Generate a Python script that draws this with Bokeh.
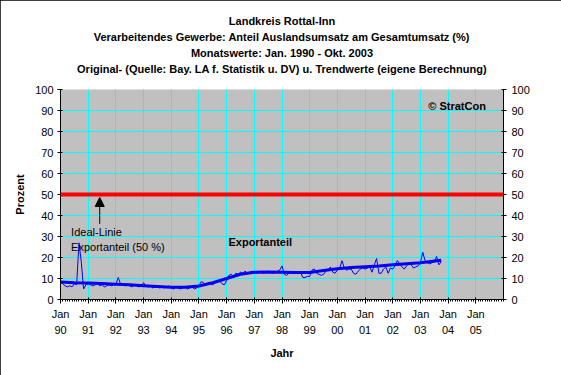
from bokeh.plotting import figure
from bokeh.models import (Range1d, LinearAxis, FixedTicker, Span, Label, Arrow,
                          NormalHead, Title)
from bokeh.embed import file_html
from bokeh.resources import INLINE

FONT = "Liberation Sans"

title_lines = [
    "Landkreis Rottal-Inn",
    "Verarbeitendes Gewerbe: Anteil Auslandsumsatz am Gesamtumsatz (%)",
    "Monatswerte: Jan. 1990 - Okt. 2003",
    "Original- (Quelle: Bay. LA f. Statistik u. DV) u. Trendwerte (eigene Berechnung)",
]

year_labels = ["90", "91", "92", "93", "94", "95", "96", "97",
               "98", "99", "00", "01", "02", "03", "04", "05"]

# Monthly original values (Jan 1990 - Oct 2003), percent
orig_1990 = [8.0, 7.5, 6.5, 6.0, 6.5, 6.0, 7.5, 7.0, 27.0, 18.0, 5.0, 7.0]
orig_1991 = [7.5, 7.0, 6.5, 7.0, 7.5, 6.5, 7.0, 6.0, 6.5, 7.0, 6.5, 7.0]
orig_1992 = [7.0, 10.5, 7.5, 7.0, 6.5, 7.0, 6.5, 6.0, 7.0, 6.5, 6.0, 6.5]
orig_1993 = [8.0, 6.5, 6.0, 6.5, 5.5, 6.0, 6.5, 5.5, 6.0, 5.5, 6.0, 6.5]
orig_1994 = [5.5, 5.0, 6.0, 5.5, 5.0, 5.5, 6.0, 5.0, 5.5, 6.0, 5.0, 5.5]
orig_1995 = [6.5, 8.5, 8.0, 7.0, 8.0, 7.5, 7.0, 8.0, 8.5, 9.0, 7.5, 7.0]
orig_1996 = [9.0, 11.5, 12.0, 11.0, 12.5, 12.0, 13.0, 12.5, 13.5, 12.5, 13.0, 13.5]
orig_1997 = [13.0, 12.5, 13.0, 13.5, 12.5, 13.0, 13.5, 13.0, 12.5, 13.0, 13.5, 14.0]
orig_1998 = [16.0, 12.0, 11.5, 12.5, 13.0, 12.5, 13.0, 12.5, 13.0, 10.5, 10.5, 11.0]
orig_1999 = [11.0, 14.0, 14.5, 12.5, 12.0, 11.5, 12.0, 13.5, 14.0, 15.5, 13.0, 12.5]
orig_2000 = [14.0, 15.0, 18.5, 15.0, 14.0, 14.5, 14.5, 12.5, 12.0, 13.5, 14.5, 15.0]
orig_2001 = [14.5, 15.0, 15.5, 13.0, 16.5, 19.5, 12.5, 12.5, 14.5, 15.5, 12.5, 15.0]
orig_2002 = [14.5, 16.0, 18.5, 17.0, 15.5, 14.5, 16.0, 17.5, 16.5, 15.0, 15.5, 16.0]
orig_2003 = [17.5, 22.5, 18.5, 17.5, 17.0, 17.5, 18.0, 20.5, 16.5, 18.0]

# Trend values (read at half-year points)
trend_dates = ["1990-01", "1990-07", "1991-01", "1991-07", "1992-01", "1992-07",
               "1993-01", "1993-07", "1994-01", "1994-07", "1995-01", "1995-07",
               "1996-01", "1996-07", "1997-01", "1997-07", "1998-01", "1998-07",
               "1999-01", "1999-07", "2000-01", "2000-07", "2001-01", "2001-07",
               "2002-01", "2002-07", "2003-01", "2003-10"]
trend_values = [8.3, 8.0, 7.8, 7.6, 7.3, 7.0,
                6.6, 6.2, 5.8, 5.8, 6.4, 8.0,
                10.0, 12.0, 13.0, 13.1, 13.0, 12.8,
                12.9, 13.8, 14.6, 15.2, 15.6, 16.0,
                16.5, 17.0, 17.5, 18.7]

ideal_value = 50
start_year = 1990
end_year_axis = 2006

original = (orig_1990 + orig_1991 + orig_1992 + orig_1993 + orig_1994 + orig_1995 +
            orig_1996 + orig_1997 + orig_1998 + orig_1999 + orig_2000 + orig_2001 +
            orig_2002 + orig_2003)
orig_x = list(range(len(original)))


def month_index(s):
    y, m = s.split("-")
    return (int(y) - start_year) * 12 + int(m) - 1


trend_x = [month_index(d) for d in trend_dates]
x_max = (end_year_axis - start_year) * 12
major = [12 * i for i in range(len(year_labels))]

p = figure(width=561, height=375, x_range=Range1d(0, x_max), y_range=Range1d(0, 100),
           output_backend="svg", toolbar_location=None,
           min_border_left=60, min_border_right=58, min_border_top=89, min_border_bottom=76,
           background_fill_color="#C0C0C0", border_fill_color="white",
           outline_line_color=None, x_axis_label="Jahr", y_axis_label="Prozent")
p.styles = {"outline": "1px solid black", "outline-offset": "-1px"}

# grids
p.xgrid.ticker = FixedTicker(ticks=[12 * i for i in range(x_max // 12 + 1)])
p.ygrid.ticker = FixedTicker(ticks=list(range(0, 101, 10)))
for g in (p.xgrid, p.ygrid):
    g.grid_line_color = "#00FFFF"
    g.grid_line_width = 1

# x axis
xa = p.xaxis[0]
xa.ticker = FixedTicker(ticks=major, minor_ticks=list(range(0, x_max + 1)))
xa.major_label_overrides = {t: "Jan\n" + yl for t, yl in zip(major, year_labels)}
xa.major_label_text_line_height = 1.35
xa.major_label_standoff = 4
xa.major_tick_in = 2
xa.major_tick_out = 4
xa.minor_tick_in = 0
xa.minor_tick_out = 2
xa.minor_tick_line_color = "black"
xa.axis_label_standoff = 8

# left y axis
ya = p.yaxis[0]
ya.ticker = FixedTicker(ticks=list(range(0, 101, 10)))
ya.major_label_standoff = 4
ya.major_tick_in = 2
ya.major_tick_out = 3
ya.minor_tick_line_color = None
ya.axis_label_standoff = 6

# right y axis
ra = LinearAxis(ticker=FixedTicker(ticks=list(range(0, 101, 10))))
ra.major_label_standoff = 5
ra.major_tick_in = 2
ra.major_tick_out = 3
ra.minor_tick_line_color = None
p.add_layout(ra, "right")

for ax in (xa, ya, ra):
    ax.axis_line_color = "black"
    ax.major_tick_line_color = "black"
    ax.major_label_text_color = "black"
    ax.major_label_text_font = FONT
    ax.major_label_text_font_size = "11px"
    ax.axis_label_text_font = FONT
    ax.axis_label_text_font_size = "11px"
    ax.axis_label_text_font_style = "bold"
    ax.axis_label_text_color = "black"

# titles: a blank spacer next to the plot, then the lines from the bottom one outward
p.add_layout(Title(text=" ", text_font=FONT, text_font_size="11px", standoff=0), "above")
for line in reversed(title_lines):
    t = Title(text=line, align="center", text_font=FONT, text_font_size="11px",
              text_font_style="bold", text_color="black", standoff=2)
    p.add_layout(t, "above")

# ideal line
p.add_layout(Span(location=ideal_value, dimension="width", line_color="#FF0000", line_width=4))

# data
p.line(orig_x, original, line_color="#0000FF", line_width=1)
p.line(trend_x, trend_values, line_color="#0000FF", line_width=3)

# annotations
p.add_layout(Arrow(end=NormalHead(size=9, fill_color="black", line_color="black"),
                   x_start=17, y_start=36, x_end=17, y_end=48.6,
                   line_color="black", line_width=1))
lab_kw = dict(text_font=FONT, text_font_size="11px", text_baseline="middle",
              text_align="left", text_color="black")
p.add_layout(Label(x=4.6, y=32.2, text="Ideal-Linie", **lab_kw))
p.add_layout(Label(x=4.6, y=25.1, text="Exportanteil (50 %)", **lab_kw))
p.add_layout(Label(x=72.8, y=27.5, text="Exportanteil", text_font_style="bold", **lab_kw))
p.add_layout(Label(x=159.4, y=92.2, text="© StratCon", text_font_style="bold", **lab_kw))

open("out.html", "w").write(file_html(p, INLINE))
